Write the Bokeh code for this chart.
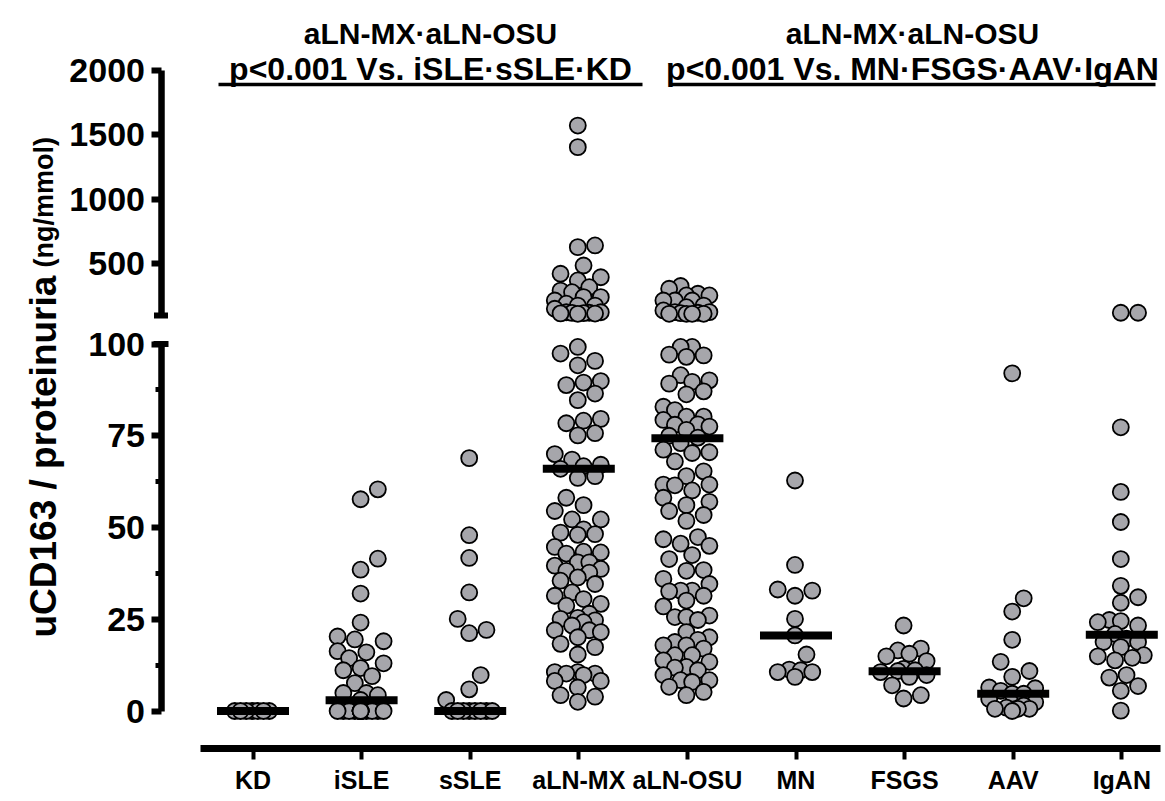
import numpy as np
from math import pi
from bokeh.plotting import figure
from bokeh.models import Range1d, LinearAxis, FixedTicker, Label, ColumnDataSource
from bokeh.embed import file_html
from bokeh.resources import INLINE

# ---------------- data ----------------
categories = ["KD", "iSLE", "sSLE", "aLN-MX", "aLN-OSU", "MN", "FSGS", "AAV", "IgAN"]

kd_vals = [0, 0, 0, 0, 0, 0, 0]
isle_vals = [60.4, 57.7, 41.5, 38.5, 32.0, 24.1, 20.3, 19.5, 19.0, 16.3, 16.0, 14.4,
             13.0, 11.7, 11.1, 9.5, 7.6, 4.9, 4.9, 4.3, 3.0,
             0, 0, 0, 0, 0, 0, 0, 0, 0, 0, 0, 0, 0, 0]
ssle_vals = [68.9, 47.9, 41.7, 32.3, 25.1, 22.1, 21.2, 9.8, 5.9, 3.0,
             0, 0, 0, 0, 0, 0, 0, 0]
mx_vals = [1570, 1403, 642, 629, 487, 423, 396, 371, 319, 293, 280, 242, 242, 216,
           191, 177, 177, 152, 125, 125, 121, 120, 118, 116, 115, 113,
           99.2, 97.4, 95.4, 94.2, 89.9, 89.5, 88.8, 86.5, 84.7, 79.6, 79.1, 78.4,
           75.7, 75.1, 70.0, 68.5, 67.1, 66.7, 66.0, 64.0, 63.5, 58.1, 56.1, 54.5,
           52.2, 52.2, 49.5, 48.6, 48.2, 48.0, 44.7, 43.4, 43.2, 42.9, 40.5, 40.5,
           39.6, 38.7, 38.2, 37.7, 36.4, 35.5, 34.6, 32.3, 31.4, 30.5, 29.2, 28.7,
           26.5, 25.4, 25.1, 24.7, 24.2, 23.3, 22.0, 22.0, 21.5, 20.1, 18.3, 17.4,
           15.4, 10.6, 10.6, 10.2, 10.2, 9.8, 8.2, 8.2, 6.4, 4.3, 3.9, 2.5]
osu_vals = [328, 307, 268, 255, 255, 216, 216, 216, 177, 164, 139, 126, 126, 121,
            118, 113, 113, 113, 113,
            99.2, 99.2, 97.1, 96.9, 96.5, 91.5, 90.1, 89.7, 89.2, 87.1, 86.3, 82.9,
            82.0, 80.2, 80.2, 79.3, 78.1, 78.0, 77.5, 76.6, 75.0, 74.5, 73.0, 71.2,
            70.5, 70.3, 68.0, 65.3, 64.0, 61.7, 61.7, 61.5, 60.1, 58.1, 57.0, 56.1,
            54.5, 53.4, 51.8, 47.4, 46.8, 45.6, 45.0, 42.5, 41.4, 38.4, 38.2, 36.0,
            34.6, 32.8, 32.8, 32.6, 31.4, 30.1, 28.5, 26.0, 25.6, 25.6, 24.8, 21.5,
            20.1, 19.4, 18.8, 17.9, 17.9, 17.0, 15.2, 15.2, 13.8, 13.4, 12.0, 11.8,
            11.1, 9.8, 8.4, 8.4, 7.9, 6.6, 5.2, 4.3]
mn_vals = [62.8, 39.8, 33.1, 32.8, 31.4, 25.1, 20.6, 15.4, 11.3, 11.1, 10.6, 10.6, 9.3]
fsgs_vals = [23.3, 17.0, 16.5, 15.6, 14.9, 13.6, 11.5, 11.1, 10.9, 10.6, 9.8, 9.3,
             7.0, 4.3, 3.4]
aav_vals = [92.0, 30.7, 27.1, 19.4, 13.4, 10.9, 9.3, 6.4, 6.2, 5.5, 4.7, 4.7, 3.3,
            2.4, 1.5, 0.9, 0.6, 0.6, 0.6, 0.0]
igan_vals = [121, 121, 77.3, 59.7, 51.5, 41.4, 34.1, 31.0, 29.5, 24.8, 24.5, 24.2,
             23.3, 21.0, 19.7, 18.8, 18.8, 17.4, 15.2, 14.9, 14.5, 13.8, 9.8, 9.1,
             6.8, 5.5, 0.1]

group_values = [kd_vals, isle_vals, ssle_vals, mx_vals, osu_vals,
                mn_vals, fsgs_vals, aav_vals, igan_vals]
medians = [0.0, 2.9, 0.0, 66.0, 74.3, 20.6, 10.8, 4.7, 20.8]

lower_ticks = [0, 25, 50, 75, 100]
lower_minor_ticks = [12.5, 37.5, 62.5, 87.5]
upper_ticks = [500, 1000, 1500, 2000]
axis_break = 100
upper_top = 2000

header_left = ["aLN-MX\u00b7aLN-OSU", "p<0.001 Vs. iSLE\u00b7sSLE\u00b7KD"]
header_right = ["aLN-MX\u00b7aLN-OSU", "p<0.001 Vs. MN\u00b7FSGS\u00b7AAV\u00b7IgAN"]
ylabel_main = "uCD163 / proteinuria"
ylabel_unit = "(ng/mmol)"

# ---------------- layout constants (pixels on the canvas) ----------------
FRAME_W, FRAME_H = 1163, 748
CAT_PX = 108.6          # px between categories
CAT0_PX = 252.5         # canvas x of first category
LOW_PX = 3.67           # px per unit, lower segment
LOW_ZERO_PX = 710.5     # canvas y of 0
UP_PX = 0.1292          # px per unit, upper segment
UP_TOP_PX = 69.5        # canvas y of 2000
AXIS_X_PX = 160.5       # canvas x of the y axis
DOT = 16
GRAY = "#a6a6ab"
BOLD_FONT = "Liberation Sans, Arial, sans-serif"
NARROW_FONT = "Liberation Sans Narrow, Arial Narrow, Liberation Sans, sans-serif"


def x_of_px(px):
    return (px - CAT0_PX) / CAT_PX


def y_px(v):
    if v > axis_break:
        return UP_TOP_PX + (upper_top - v) * UP_PX
    return LOW_ZERO_PX - v * LOW_PX


def swarm(vals, d=DOT + 0.5, maxw=24.0, step=5.75):
    vals = np.asarray(vals, dtype=float)
    order = np.argsort(vals, kind="stable")
    cands = sorted(np.arange(-maxw, maxw + 0.01, step), key=lambda c: (abs(c), c))
    placed = []
    offs = np.zeros(len(vals))
    for idx in order:
        y = y_px(vals[idx])
        best, best_md = 0.0, -1.0
        for c in cands:
            md = min((np.hypot(c - px, y - py) for px, py in placed), default=1e9)
            if md >= d:
                best = c
                break
            if md > best_md + 0.5:
                best_md, best = md, c
        offs[idx] = best
        placed.append((best, y))
    return offs


p = figure(frame_width=FRAME_W, frame_height=FRAME_H,
           x_range=Range1d(x_of_px(0), x_of_px(FRAME_W)),
           y_range=Range1d(-(FRAME_H - LOW_ZERO_PX) / LOW_PX, LOW_ZERO_PX / LOW_PX),
           output_backend="svg", toolbar_location=None,
           x_axis_location=None, y_axis_location=None, title=None, min_border=0)
p.extra_y_ranges = {"upper": Range1d(upper_top - (FRAME_H - UP_TOP_PX) / UP_PX,
                                     upper_top + UP_TOP_PX / UP_PX)}
p.outline_line_color = None
p.xgrid.visible = False
p.ygrid.visible = False

lo = dict(x=[], y=[])
up = dict(x=[], y=[])
for i, vals in enumerate(group_values):
    offs = swarm(vals)
    for v, o in zip(vals, offs):
        tgt = up if v > axis_break else lo
        tgt["x"].append(i + o / CAT_PX)
        tgt["y"].append(v)

p.scatter("x", "y", source=ColumnDataSource(lo), size=DOT, fill_color=GRAY,
          line_color="black", line_width=1.8)
p.scatter("x", "y", source=ColumnDataSource(up), size=DOT, fill_color=GRAY,
          line_color="black", line_width=1.8, y_range_name="upper")

# medians
p.rect(x=list(range(len(categories))), y=medians, width=0.663, height=8,
       height_units="screen", fill_color="black", line_color=None)

axis_x = x_of_px(AXIS_X_PX)


def style_y(ax):
    ax.axis_line_width = 6.5
    ax.axis_line_color = "black"
    ax.major_tick_line_width = 6
    ax.major_tick_out = 10
    ax.major_tick_in = 0
    ax.minor_tick_line_width = 5
    ax.minor_tick_out = 6
    ax.minor_tick_in = 0
    ax.major_label_text_font = BOLD_FONT
    ax.major_label_text_font_style = "bold"
    ax.major_label_text_font_size = "34px"
    ax.major_label_text_color = "black"
    ax.major_label_standoff = 6


ax_low = LinearAxis(fixed_location=axis_x, bounds=(0, axis_break),
                    ticker=FixedTicker(ticks=lower_ticks, minor_ticks=lower_minor_ticks))
style_y(ax_low)
p.add_layout(ax_low, "left")

ax_up = LinearAxis(y_range_name="upper", fixed_location=axis_x, bounds=(axis_break, upper_top),
                   ticker=FixedTicker(ticks=upper_ticks))
style_y(ax_up)
p.add_layout(ax_up, "left")

# axis-break caps
p.rect(x=[axis_x], y=[axis_break], width=15, height=6, width_units="screen",
       height_units="screen", fill_color="black", line_color=None)
p.rect(x=[axis_x], y=[axis_break], width=14, height=6, width_units="screen",
       height_units="screen", fill_color="black", line_color=None, y_range_name="upper")

ax_x = LinearAxis(ticker=FixedTicker(ticks=list(range(len(categories)))),
                  major_label_overrides={i: c for i, c in enumerate(categories)},
                  bounds=(x_of_px(200), x_of_px(1160)))
ax_x.axis_line_width = 7
ax_x.axis_line_color = "black"
ax_x.major_tick_out = 11
ax_x.major_tick_in = 0
ax_x.major_tick_line_width = 4
ax_x.minor_tick_out = 0
ax_x.major_label_standoff = 6
ax_x.major_label_text_font = NARROW_FONT
ax_x.major_label_text_font_style = "bold"
ax_x.major_label_text_font_size = "25px"
ax_x.major_label_text_color = "black"
p.add_layout(ax_x, "below")


# headers
def up_val(canvas_y):
    return upper_top + (UP_TOP_PX - canvas_y) / UP_PX


for texts, x0px, x1px in [(header_left, 218, 642), (header_right, 669, 1155)]:
    xc = x_of_px((x0px + x1px) / 2)
    for t, by, fs in zip(texts, [33, 68], ["30px", "32px"]):
        p.add_layout(Label(x=xc, y=up_val(by), y_range_name="upper", text=t,
                           text_align="center", text_baseline="alphabetic",
                           text_font=BOLD_FONT, text_font_style="bold",
                           text_font_size=fs, text_color="black"))
    p.segment(x0=[x_of_px(x0px)], x1=[x_of_px(x1px)], y0=[up_val(84)], y1=[up_val(84)],
              line_width=3.5, line_color="black", y_range_name="upper")

# y label (two sizes)
ylab_x = x_of_px(43)
p.add_layout(Label(x=ylab_x, y=(LOW_ZERO_PX - 637) / LOW_PX, text=ylabel_main, angle=pi / 2,
                   text_align="left", text_baseline="alphabetic", text_font=BOLD_FONT,
                   text_font_style="bold", text_font_size="37px", text_color="black"))
p.add_layout(Label(x=ylab_x, y=(LOW_ZERO_PX - 267) / LOW_PX, text=ylabel_unit, angle=pi / 2,
                   text_align="left", text_baseline="alphabetic", text_font=BOLD_FONT,
                   text_font_style="bold", text_font_size="27px", text_color="black"))

open("out.html", "w").write(file_html(p, INLINE))
